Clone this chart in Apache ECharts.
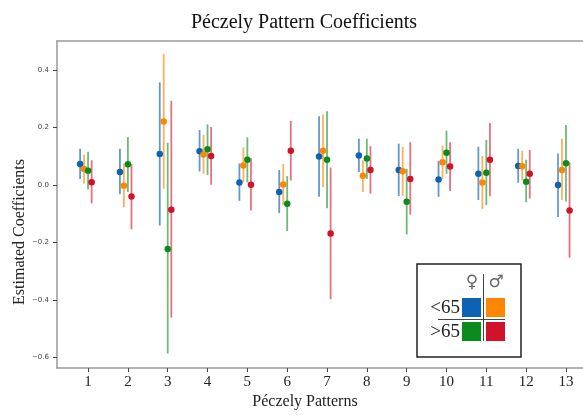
<!DOCTYPE html>
<html>
<head>
<meta charset="utf-8">
<script src="https://cdn.jsdelivr.net/npm/echarts@6/dist/echarts.min.js"></script>
<style>
  html, body { margin: 0; padding: 0; background: #fff; }
  #main { width: 583px; height: 415px; }
</style>
</head>
<body>
<div id="main"></div>
<script>
var patterns = [1, 2, 3, 4, 5, 6, 7, 8, 9, 10, 11, 12, 13];
var yTicks = [-0.6, -0.4, -0.2, 0, 0.2, 0.4];

// <65 female (blue)
var youngFemale = [0.073, 0.045, 0.108, 0.117, 0.009, -0.024, 0.099, 0.103, 0.052, 0.019, 0.039, 0.066, 0.0];
var youngFemaleLo = [0.021, -0.032, -0.141, 0.047, -0.055, -0.098, -0.041, 0.045, -0.038, -0.041, -0.052, 0.008, -0.111];
var youngFemaleHi = [0.126, 0.126, 0.357, 0.191, 0.075, 0.052, 0.239, 0.161, 0.144, 0.084, 0.133, 0.126, 0.110];
// <65 male (orange)
var youngMale = [0.056, -0.003, 0.221, 0.106, 0.068, 0.002, 0.119, 0.032, 0.048, 0.079, 0.009, 0.065, 0.052];
var youngMaleLo = [0.005, -0.077, -0.013, 0.039, 0.010, -0.069, -0.007, -0.024, -0.038, 0.021, -0.083, 0.016, -0.052];
var youngMaleHi = [0.106, 0.075, 0.456, 0.175, 0.131, 0.073, 0.245, 0.086, 0.133, 0.137, 0.101, 0.119, 0.161];
// >65 female (green)
var oldFemale = [0.050, 0.072, -0.223, 0.124, 0.088, -0.065, 0.088, 0.092, -0.058, 0.112, 0.043, 0.011, 0.076];
var oldFemaleLo = [-0.016, -0.024, -0.586, 0.035, 0.009, -0.160, -0.081, 0.021, -0.172, 0.039, -0.070, -0.060, -0.057];
var oldFemaleHi = [0.116, 0.167, 0.147, 0.211, 0.166, 0.031, 0.257, 0.161, 0.056, 0.189, 0.157, 0.088, 0.209];
// >65 male (red)
var oldMale = [0.010, -0.040, -0.086, 0.101, 0.001, 0.119, -0.169, 0.052, 0.021, 0.064, 0.088, 0.039, -0.089];
var oldMaleLo = [-0.064, -0.154, -0.461, 0.001, -0.089, 0.016, -0.397, -0.030, -0.103, -0.021, -0.039, -0.047, -0.253];
var oldMaleHi = [0.086, 0.073, 0.293, 0.202, 0.093, 0.223, 0.061, 0.135, 0.149, 0.149, 0.216, 0.122, 0.079];

var groups = [
  { name: "<65 ♀", mean: youngFemale, lo: youngFemaleLo, hi: youngFemaleHi, color: "#0d62b3", bar: "rgba(13,98,179,0.65)", shift: -0.2 },
  { name: "<65 ♂", mean: youngMale, lo: youngMaleLo, hi: youngMaleHi, color: "#ff8600", bar: "rgba(255,134,0,0.65)", shift: -0.1 },
  { name: ">65 ♀", mean: oldFemale, lo: oldFemaleLo, hi: oldFemaleHi, color: "#0a8c1c", bar: "rgba(10,140,28,0.6)", shift: 0 },
  { name: ">65 ♂", mean: oldMale, lo: oldMaleLo, hi: oldMaleHi, color: "#d2122a", bar: "rgba(210,18,42,0.6)", shift: 0.09 }
];

var serif = "'Liberation Serif', 'DejaVu Serif', serif";
var series = [];
groups.forEach(function (g) {
  var barData = [], dotData = [];
  for (var i = 0; i < patterns.length; i++) {
    barData.push([patterns[i] + g.shift, g.lo[i], g.hi[i]]);
    dotData.push([patterns[i] + g.shift, g.mean[i]]);
  }
  // error bar
  series.push({
    name: g.name,
    type: "custom",
    data: barData,
    silent: true,
    renderItem: function (params, api) {
      var p1 = api.coord([api.value(0), api.value(1)]);
      var p2 = api.coord([api.value(0), api.value(2)]);
      return {
        type: "line",
        shape: { x1: p1[0], y1: p1[1], x2: p2[0], y2: p2[1] },
        style: { stroke: g.bar, lineWidth: 1.8 }
      };
    },
    z: 2
  });
  // estimate
  series.push({
    name: g.name,
    type: "scatter",
    data: dotData,
    symbol: "circle",
    symbolSize: 6.5,
    itemStyle: { color: g.color, opacity: 1 },
    z: 3
  });
});

var axisGray = { color: "#9a9a9a", width: 1.5 };
var chart = echarts.init(document.getElementById("main"));
var option = {
  animation: false,
  backgroundColor: "#fff",
  title: {
    text: "Péczely Pattern Coefficients",
    left: 299,
    textAlign: "center",
    top: 8,
    textStyle: { fontFamily: serif, fontSize: 20, fontWeight: "normal", color: "#111" }
  },
  grid: { left: 57, right: 0, top: 41, bottom: 40 },
  xAxis: [{
    type: "value",
    min: 0.22,
    max: 13.427,
    name: "Péczely Patterns",
    nameLocation: "middle",
    nameGap: 25,
    nameTextStyle: { fontFamily: serif, fontSize: 16, color: "#222", padding: [0, 30, 0, 0] },
    axisLine: { show: true, onZero: false, lineStyle: axisGray },
    axisTick: { show: true, customValues: patterns, length: 4, lineStyle: { color: "#444" } },
    axisLabel: {
      customValues: patterns,
      margin: 6,
      fontFamily: serif, fontSize: 15, color: "#222",
      formatter: function (v) { return String(Math.round(v)); }
    },
    splitLine: { show: false }
  }, {
    // top frame line only
    type: "value",
    position: "top",
    min: 0.22,
    max: 13.427,
    axisLine: { show: true, onZero: false, lineStyle: axisGray },
    axisTick: { show: false },
    axisLabel: { show: false },
    splitLine: { show: false }
  }],
  yAxis: {
    type: "value",
    min: -0.637,
    max: 0.501,
    axisLine: { show: true, onZero: false, lineStyle: axisGray },
    axisTick: { show: true, customValues: yTicks, length: 4, lineStyle: { color: "#444" } },
    axisLabel: {
      customValues: yTicks,
      margin: 8,
      fontFamily: "'DejaVu Sans', sans-serif", fontSize: 7, color: "#444",
      formatter: function (v) {
        var s = Math.abs(v).toFixed(1);
        return v < -1e-9 ? "\u2212" + s : s;
      }
    },
    splitLine: { show: false }
  },
  graphic: [
    {
      type: "text",
      x: 20, y: 232,
      rotation: Math.PI / 2,
      style: {
        text: "Estimated Coefficients",
        font: "16px " + serif,
        fill: "#222",
        align: "center",
        verticalAlign: "middle"
      }
    },
    // legend box
    { type: "rect", shape: { x: 417, y: 264, width: 104, height: 93 }, style: { fill: "#fff", stroke: "#222", lineWidth: 1.5 }, z: 10 },
    { type: "text", x: 472, y: 283, style: { text: "♀", font: "17px 'DejaVu Sans'", fill: "#666", align: "center", verticalAlign: "middle" }, z: 11 },
    { type: "text", x: 496, y: 283, style: { text: "♂", font: "17px 'DejaVu Sans'", fill: "#666", align: "center", verticalAlign: "middle" }, z: 11 },
    { type: "line", shape: { x1: 483.5, y1: 274, x2: 483.5, y2: 341 }, style: { stroke: "#444", lineWidth: 1 }, z: 11 },
    { type: "line", shape: { x1: 438, y1: 319.5, x2: 505, y2: 319.5 }, style: { stroke: "#444", lineWidth: 1 }, z: 11 },
    { type: "rect", shape: { x: 462, y: 298, width: 19, height: 19 }, style: { fill: groups[0].color }, z: 11 },
    { type: "rect", shape: { x: 486, y: 298, width: 19, height: 19 }, style: { fill: groups[1].color }, z: 11 },
    { type: "rect", shape: { x: 462, y: 322, width: 19, height: 19 }, style: { fill: groups[2].color }, z: 11 },
    { type: "rect", shape: { x: 486, y: 322, width: 19, height: 19 }, style: { fill: groups[3].color }, z: 11 },
    { type: "text", x: 460, y: 308, style: { text: "<65", font: "19px " + serif, fill: "#222", align: "right", verticalAlign: "middle" }, z: 11 },
    { type: "text", x: 460, y: 332, style: { text: ">65", font: "19px " + serif, fill: "#222", align: "right", verticalAlign: "middle" }, z: 11 }
  ],
  series: series
};
chart.setOption(option);
</script>
</body>
</html>
